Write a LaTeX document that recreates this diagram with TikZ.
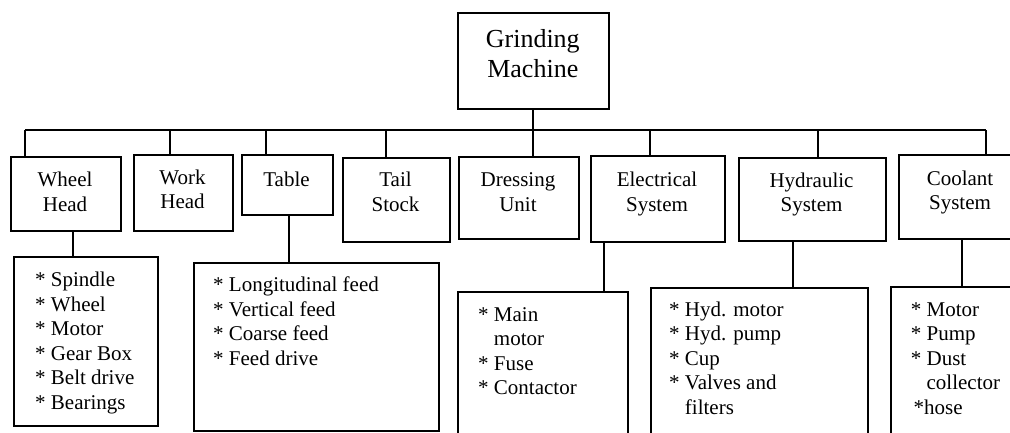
\documentclass[tikz,border=0pt]{standalone}
\usepackage{fontspec}
\setmainfont{Liberation Serif}
\tikzset{
  box/.style={draw, line width=1.6pt, anchor=north west, inner sep=0pt},
  lbl/.style={font=\fontsize{21}{24.3}\selectfont, align=center, anchor=base, inner sep=0pt},
  toplbl/.style={font=\fontsize{26}{30}\selectfont, align=center, anchor=base, inner sep=0pt},
  lst/.style={font=\fontsize{21}{24.5}\selectfont, align=left, anchor=base west, inner sep=0pt},
  conn/.style={line width=1.6pt},
}
\newcommand{\hang}{\phantom{* }}
\begin{document}
\begin{tikzpicture}[x=1pt,y=-1pt]
\useasboundingbox (0,0) rectangle (1010,432);
\clip (0,0) rectangle (1010,432);
% boxes
\node[box, minimum width=151pt, minimum height=96pt] (gm) at (457,12) {};
\node[box, minimum width=110pt, minimum height=74pt] (wh) at (10,156) {};
\node[box, minimum width=99pt, minimum height=76pt] (wk) at (133,154) {};
\node[box, minimum width=91pt, minimum height=60pt] (tb) at (241,154) {};
\node[box, minimum width=107pt, minimum height=84pt] (ts) at (342,157) {};
\node[box, minimum width=120pt, minimum height=82pt] (du) at (458,156) {};
\node[box, minimum width=134pt, minimum height=86pt] (es) at (590,155) {};
\node[box, minimum width=147pt, minimum height=83pt] (hs) at (738,157) {};
\node[box, minimum width=124pt, minimum height=84pt] (cs) at (898,154) {};
\node[box, minimum width=144pt, minimum height=169pt] (whl) at (13,256) {};
\node[box, minimum width=245pt, minimum height=168pt] (tbl) at (193,262) {};
\node[box, minimum width=170pt, minimum height=170pt] (esl) at (457,291) {};
\node[box, minimum width=217pt, minimum height=175pt] (hsl) at (650,287) {};
\node[box, minimum width=130pt, minimum height=175pt] (csl) at (890,286) {};
% labels (anchor = baseline of last line)
\node[toplbl] (gmt) at (532.8,77) {Grinding\\Machine};
\node[lbl] (wht) at (65,211) {Wheel\\Head};
\node[lbl] (wkt) at (182.5,208.3) {Work\\Head};
\node[lbl] (tbt) at (286.5,186) {Table};
\node[lbl] (tst) at (395.5,211) {Tail\\Stock};
\node[lbl] (dut) at (518,211) {Dressing\\Unit};
\node[lbl] (est) at (657,211) {Electrical\\System};
\node[lbl] (hst) at (811.5,211.6) {Hydraulic\\System};
\node[lbl] (cst) at (960,209.3) {Coolant\\System};
% lists
\node[lst] (whlt) at (35,409.2) {* Spindle\\* Wheel\\* Motor\\* Gear Box\\* Belt drive\\* Bearings};
\node[lst] (tblt) at (213,365.2) {* Longitudinal feed\\* Vertical feed\\* Coarse feed\\* Feed drive};
\node[lst] (eslt) at (478,394.5) {* Main\\\hang motor\\* Fuse\\* Contactor};
\node[lst] (hslt) at (669,414) {* Hyd. motor\\* Hyd. pump\\* Cup\\* Valves and\\\hang filters};
\node[lst] (cslt) at (910.7,414) {* Motor\\* Pump\\* Dust\\\hang collector\\\hspace{2.7pt}*hose};
% bus
\coordinate (b0) at (533,130);
\coordinate (b1) at (25,130);
\coordinate (b2) at (170,130);
\coordinate (b3) at (266,130);
\coordinate (b4) at (386,130);
\coordinate (b6) at (650,130);
\coordinate (b7) at (818,130);
\coordinate (b8) at (986,130);
\draw[conn] (b1) -- (b8);
\draw[conn] (gm.south -| b0) -- (du.north -| b0);
\draw[conn] (b1) -- (wh.north -| b1);
\draw[conn] (b2) -- (wk.north -| b2);
\draw[conn] (b3) -- (tb.north -| b3);
\draw[conn] (b4) -- (ts.north -| b4);
\draw[conn] (b6) -- (es.north -| b6);
\draw[conn] (b7) -- (hs.north -| b7);
\draw[conn] (b8) -- (cs.north -| b8);
% lower stems
\coordinate (s1) at (73,0);
\coordinate (s3) at (289,0);
\coordinate (s6) at (604,0);
\coordinate (s7) at (793,0);
\coordinate (s8) at (962,0);
\draw[conn] (wh.south -| s1) -- (whl.north -| s1);
\draw[conn] (tb.south -| s3) -- (tbl.north -| s3);
\draw[conn] (es.south -| s6) -- (esl.north -| s6);
\draw[conn] (hs.south -| s7) -- (hsl.north -| s7);
\draw[conn] (cs.south -| s8) -- (csl.north -| s8);
\end{tikzpicture}
\end{document}
